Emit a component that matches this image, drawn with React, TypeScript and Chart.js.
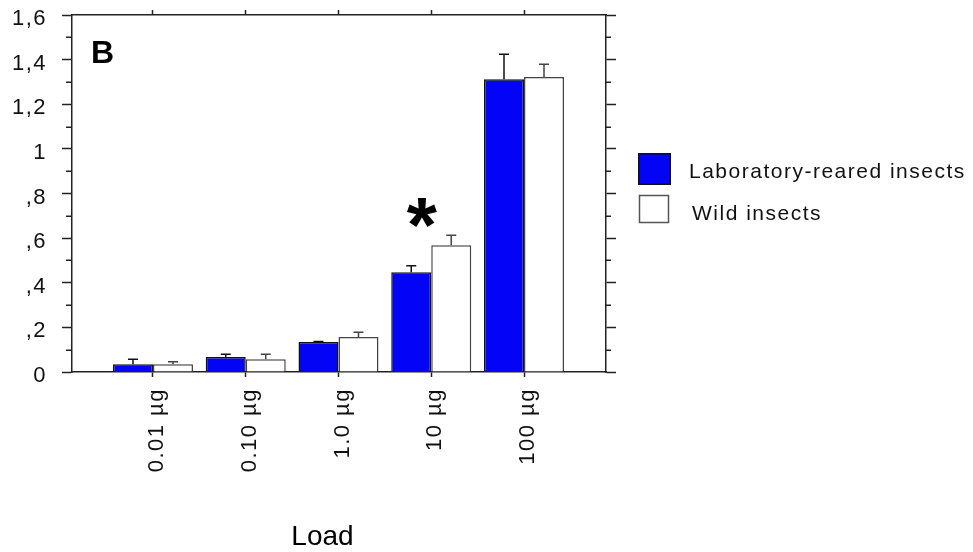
import React, { useEffect, useRef } from 'react';
import { Chart, registerables } from 'chart.js';

Chart.register(...registerables);

// ---- data ----
const categories = ['0.01 µg', '0.10 µg', '1.0 µg', '10 µg', '100 µg'];
const seriesNames = ['Laboratory-reared insects', 'Wild insects'];
const labValues = [0.035, 0.067, 0.134, 0.447, 1.312];
const labErrors = [0.022, 0.012, 0.003, 0.029, 0.112];
const wildValues = [0.035, 0.057, 0.157, 0.568, 1.322];
const wildErrors = [0.011, 0.022, 0.021, 0.045, 0.057];
const yTickValues = [0, 0.2, 0.4, 0.6, 0.8, 1.0, 1.2, 1.4, 1.6];
const yTickLabels = ['0', ',2', ',4', ',6', ',8', '1', '1,2', '1,4', '1,6'];
const yMinorTicks = [0.1, 0.3, 0.5, 0.7, 0.9, 1.1, 1.3, 1.5];
const xTitle = 'Load';
const panelLabel = 'B';
const significantIndex = 3;
const significantMark = '*';

const FONT = "'Liberation Sans', Arial, Helvetica, sans-serif";
const INK = '#111';
const AXIS = '#222';

const decorPlugin = {
  id: 'decor',
  beforeDraw(chart: any) {
    chart.ctx.letterSpacing = '1.5px';
  },
  afterDatasetsDraw(chart: any) {
    const ctx = chart.ctx;
    const yScale = chart.scales.y;
    chart.data.datasets.forEach((ds: any, d: number) => {
      const meta = chart.getDatasetMeta(d);
      meta.data.forEach((bar: any, i: number) => {
        const v = ds.data[i].y;
        const e = ds.errors[i];
        const yTop = yScale.getPixelForValue(v);
        const yErr = yScale.getPixelForValue(v + e);
        ctx.save();
        ctx.strokeStyle = ds.errorColor;
        ctx.lineWidth = 1.5;
        ctx.beginPath();
        ctx.moveTo(bar.x, yTop);
        ctx.lineTo(bar.x, yErr);
        ctx.moveTo(bar.x - 5, yErr);
        ctx.lineTo(bar.x + 5, yErr);
        ctx.stroke();
        ctx.restore();
      });
    });
  },
  afterDraw(chart: any) {
    const ctx = chart.ctx;
    const { left, right, top } = chart.chartArea;
    const yScale = chart.scales.y;
    const xScale = chart.scales.x;
    ctx.save();
    // minor ticks
    ctx.strokeStyle = AXIS;
    ctx.lineWidth = 1.5;
    ctx.beginPath();
    yMinorTicks.forEach((v) => {
      const py = Math.round(yScale.getPixelForValue(v)) + 0.25;
      ctx.moveTo(left - 6, py);
      ctx.lineTo(left, py);
      ctx.moveTo(right, py);
      ctx.lineTo(right + 5, py);
    });
    ctx.stroke();

    // panel label
    ctx.letterSpacing = '0px';
    ctx.fillStyle = '#000';
    ctx.font = `bold 32px ${FONT}`;
    ctx.textAlign = 'left';
    ctx.textBaseline = 'alphabetic';
    ctx.fillText(panelLabel, left + 19, top + 48);

    // significance asterisk
    const ax = xScale.getPixelForValue(significantIndex) - 9;
    const ay = yScale.getPixelForValue(0.713);
    ctx.font = `bold 80px ${FONT}`;
    let m = ctx.measureText(significantMark);
    const w0 = m.actualBoundingBoxLeft + m.actualBoundingBoxRight;
    const size = (80 * 31) / w0;
    ctx.font = `bold ${size}px ${FONT}`;
    m = ctx.measureText(significantMark);
    const gx = ax - (m.actualBoundingBoxRight - m.actualBoundingBoxLeft) / 2;
    const gy = ay + (m.actualBoundingBoxAscent - m.actualBoundingBoxDescent) / 2;
    ctx.fillText(significantMark, gx, gy);

    // x title
    ctx.font = `28px ${FONT}`;
    ctx.textAlign = 'center';
    const cx = (xScale.getPixelForValue(0) + xScale.getPixelForValue(4)) / 2 - 16;
    ctx.fillText(xTitle, cx, 545);

    // legend
    ctx.letterSpacing = '1.5px';
    ctx.font = `21px ${FONT}`;
    ctx.textAlign = 'left';
    const ds0 = chart.data.datasets[0];
    const ds1 = chart.data.datasets[1];
    ctx.fillStyle = ds0.backgroundColor;
    ctx.fillRect(right + 32, 153, 33, 32);
    ctx.strokeStyle = '#111';
    ctx.lineWidth = 1.5;
    ctx.strokeRect(right + 32.75, 153.75, 31.5, 30.5);
    ctx.fillStyle = ds1.backgroundColor;
    ctx.fillRect(right + 33, 195, 30, 28);
    ctx.strokeStyle = '#555';
    ctx.strokeRect(right + 33.5, 195.5, 29, 27);
    ctx.fillStyle = INK;
    ctx.fillText(ds0.label, right + 83, 177.5);
    ctx.fillText(ds1.label, right + 86, 220);
    ctx.restore();
  },
};

export default function App() {
  const ref = useRef<HTMLCanvasElement | null>(null);

  useEffect(() => {
    if (!ref.current) return;
    const xMin = -0.873;
    const xMax = 4.884;
    const catTicks = (axis: any) => {
      axis.ticks = categories.map((_, i) => ({ value: i }));
    };
    const yTicks = (axis: any) => {
      axis.ticks = yTickValues.map((v) => ({ value: v }));
    };
    const noPad = (s: any) => {
      s.paddingTop = 0;
      s.paddingBottom = 0;
      s.paddingLeft = 0;
      s.paddingRight = 0;
    };
    const tickFont = { family: FONT, size: 22 };
    const chart = new Chart(ref.current, {
      type: 'bar',
      data: {
        datasets: [
          {
            label: seriesNames[0],
            data: labValues.map((v, i) => ({ x: i, y: v })),
            backgroundColor: '#0303F5',
            borderColor: '#111',
            borderWidth: 1.5,
            errors: labErrors,
            errorColor: '#111',
          } as any,
          {
            label: seriesNames[1],
            data: wildValues.map((v, i) => ({ x: i, y: v })),
            backgroundColor: '#FFFFFF',
            borderColor: '#444',
            borderWidth: 1.5,
            errors: wildErrors,
            errorColor: '#444',
          } as any,
        ],
      },
      options: {
        animation: false,
        responsive: false,
        devicePixelRatio: 1,
        layout: { padding: { left: 0, right: 357, top: 0, bottom: 0 } },
        datasets: { bar: { barPercentage: 1, categoryPercentage: 0.8625 } },
        plugins: { legend: { display: false }, tooltip: { enabled: false } },
        scales: {
          x: {
            type: 'linear',
            position: 'bottom',
            min: xMin,
            max: xMax,
            offset: false,
            afterBuildTicks: catTicks,
            afterFit: (s: any) => { s.height = 180; noPad(s); },
            grid: { display: true, offset: false, drawOnChartArea: false, drawTicks: true, tickLength: 5, tickColor: AXIS, tickWidth: 1.5 },
            border: { display: true, color: AXIS, width: 1.5 },
            ticks: {
              autoSkip: false,
              minRotation: 90,
              maxRotation: 90,
              padding: 11,
              labelOffset: 4,
              color: INK,
              font: tickFont,
              callback: (v: any) => categories[Math.round(Number(v))],
            },
          },
          x2: {
            type: 'linear',
            position: 'top',
            min: xMin,
            max: xMax,
            offset: false,
            afterBuildTicks: catTicks,
            afterFit: (s: any) => { s.height = 15; noPad(s); },
            grid: { display: true, offset: false, drawOnChartArea: false, drawTicks: true, tickLength: 5, tickColor: AXIS, tickWidth: 1.5 },
            border: { display: true, color: AXIS, width: 1.5 },
            ticks: { display: false },
          },
          y: {
            type: 'linear',
            position: 'left',
            min: 0,
            max: 1.6,
            afterBuildTicks: yTicks,
            afterFit: (s: any) => { s.width = 72; noPad(s); },
            grid: { display: true, drawOnChartArea: false, drawTicks: true, tickLength: 10, tickColor: AXIS, tickWidth: 1.5 },
            border: { display: true, color: AXIS, width: 1.5 },
            ticks: {
              padding: 15,
              labelOffset: 4,
              color: INK,
              font: tickFont,
              callback: (_v: any, i: number) => yTickLabels[i],
            },
          },
          y2: {
            type: 'linear',
            position: 'right',
            min: 0,
            max: 1.6,
            afterBuildTicks: yTicks,
            afterFit: (s: any) => { s.width = 10; noPad(s); },
            grid: { display: true, drawOnChartArea: false, drawTicks: true, tickLength: 10, tickColor: AXIS, tickWidth: 1.5 },
            border: { display: true, color: AXIS, width: 1.5 },
            ticks: { display: false },
          },
        },
      } as any,
      plugins: [decorPlugin],
    });
    return () => chart.destroy();
  }, []);

  return (
    <div style={{ position: 'fixed', left: 0, top: 0, width: 973, height: 552, background: '#fff' }}>
      <canvas ref={ref} width={973} height={552} style={{ display: 'block', width: 973, height: 552 }} />
    </div>
  );
}
